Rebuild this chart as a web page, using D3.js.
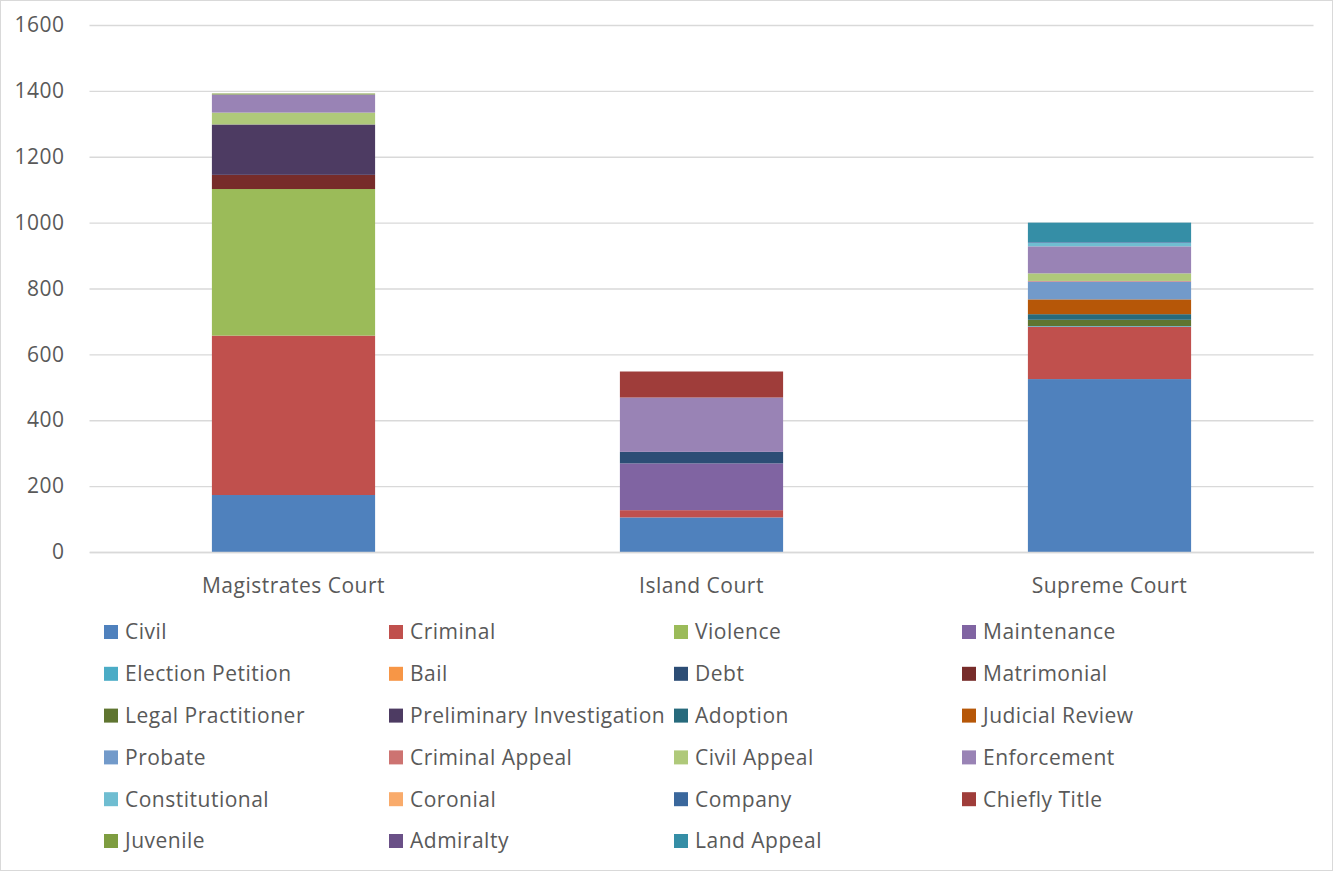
<!DOCTYPE html>
<html>
<head>
<meta charset="utf-8">
<script src="https://cdn.jsdelivr.net/npm/d3@7"></script>
<style>
  body { margin: 0; background: #fff; }
  svg text { font-family: "Open Sans", "Noto Sans", sans-serif; fill: #595959; letter-spacing: 0.5px; }
</style>
</head>
<body>
<div id="chart"></div>
<script>
// courts along the x axis
const courts = ['Magistrates Court', 'Island Court', 'Supreme Court'];

// case types, in stacking / legend order
const caseTypes = [
  'Civil', 'Criminal', 'Violence', 'Maintenance', 'Election Petition', 'Bail',
  'Debt', 'Matrimonial', 'Legal Practitioner', 'Preliminary Investigation',
  'Adoption', 'Judicial Review', 'Probate', 'Criminal Appeal', 'Civil Appeal',
  'Enforcement', 'Constitutional', 'Coronial', 'Company', 'Chiefly Title',
  'Juvenile', 'Admiralty', 'Land Appeal'
];

// values per court: [Magistrates, Island, Supreme]
const civil = [173, 105, 525];
const criminal = [484, 22, 159];
const violence = [445, 0, 0];
const maintenance = [0, 142, 0];
const electionPetition = [0, 0, 2];
const bail = [0, 0, 0];
const debt = [0, 35, 0];
const matrimonial = [43, 0, 0];
const legalPractitioner = [0, 0, 19];
const preliminaryInvestigation = [153, 0, 0];
const adoption = [0, 0, 17];
const judicialReview = [0, 0, 45];
const probate = [0, 0, 54];
const criminalAppeal = [0, 0, 2];
const civilAppeal = [36, 0, 23];
const enforcement = [55, 165, 82];
const constitutional = [0, 0, 11];
const coronial = [0, 0, 0];
const company = [0, 0, 2];
const chieflyTitle = [0, 79, 0];
const juvenile = [3, 0, 0];
const admiralty = [0, 0, 0];
const landAppeal = [0, 0, 59];

const yTicks = [0, 200, 400, 600, 800, 1000, 1200, 1400, 1600];

const seriesValues = [
  civil, criminal, violence, maintenance, electionPetition, bail, debt,
  matrimonial, legalPractitioner, preliminaryInvestigation, adoption,
  judicialReview, probate, criminalAppeal, civilAppeal, enforcement,
  constitutional, coronial, company, chieflyTitle, juvenile, admiralty, landAppeal
];

// office 2010 style palette
const colors = [
  '#4F81BD', '#C0504D', '#9BBB59', '#8064A2', '#4BACC6', '#F79646',
  '#2C4D75', '#772C2A', '#5F7530', '#4D3B62', '#276A7C', '#B65708',
  '#729ACA', '#CD7371', '#AFC97A', '#9983B5', '#6FBDD1', '#F9AB6B',
  '#3A679C', '#9F3D3A', '#7E9D40', '#6A5087', '#358EA6'
];

const width = 1333;
const height = 871;
const plot = { left: 89.5, right: 1313.5, top: 25, bottom: 552 };

// build the table d3.stack wants
const table = courts.map((court, i) => {
  const row = { court };
  caseTypes.forEach((t, j) => { row[t] = seriesValues[j][i]; });
  return row;
});
const stacked = d3.stack().keys(caseTypes)(table);

const svg = d3.select('#chart').append('svg')
  .attr('width', width)
  .attr('height', height);

// outer border of the chart area
svg.append('rect')
  .attr('x', 0.5).attr('y', 0.5)
  .attr('width', width - 1).attr('height', height - 1)
  .attr('fill', '#fff')
  .attr('stroke', '#D9D9D9');

const x = d3.scaleBand().domain(courts).range([plot.left, plot.right]);
const y = d3.scaleLinear().domain([0, 1600]).range([plot.bottom, plot.top]);

// gridlines + y labels
const yAxis = svg.append('g')
  .attr('transform', `translate(${plot.left},0)`)
  .call(d3.axisLeft(y).tickValues(yTicks).tickSize(-(plot.right - plot.left)).tickPadding(25).tickFormat(d3.format('d')));
yAxis.select('.domain').remove();
yAxis.selectAll('.tick line').attr('stroke', '#D9D9D9').attr('stroke-width', 1.3);
yAxis.selectAll('.tick text')
  .attr('font-size', 21)
  .style('font-family', '"Open Sans", sans-serif');

// bars
const barW = x.bandwidth() * 0.4;
svg.append('g').selectAll('g')
  .data(stacked)
  .join('g')
  .attr('fill', (d, i) => colors[i])
  .selectAll('rect')
  .data(d => d.map((v, i) => ({ v, court: courts[i] })))
  .join('rect')
  .attr('x', d => x(d.court) + (x.bandwidth() - barW) / 2)
  .attr('width', barW)
  .attr('y', d => y(d.v[1]))
  .attr('height', d => y(d.v[0]) - y(d.v[1]));

// x axis line + category labels
const xAxis = svg.append('g')
  .attr('transform', `translate(0,${plot.bottom})`)
  .call(d3.axisBottom(x).tickSize(0).tickPadding(26));
xAxis.select('.domain').attr('stroke', '#D9D9D9').attr('stroke-width', 1.3);
xAxis.selectAll('.tick text')
  .attr('font-size', 21)
  .style('font-family', '"Open Sans", sans-serif');

// legend, 4 columns
const legendCols = [104, 389, 674, 962];
const legendTop = 632;
const legendRowH = 41.8;
const legend = svg.append('g').selectAll('g')
  .data(caseTypes)
  .join('g')
  .attr('transform', (d, i) => `translate(${legendCols[i % 4]},${legendTop + Math.floor(i / 4) * legendRowH})`);
legend.append('rect')
  .attr('x', 0).attr('y', -7)
  .attr('width', 14).attr('height', 14)
  .attr('fill', (d, i) => colors[i]);
legend.append('text')
  .attr('x', 21).attr('y', 0)
  .attr('dy', '0.35em')
  .attr('font-size', 21)
  .text(d => d);
</script>
</body>
</html>
